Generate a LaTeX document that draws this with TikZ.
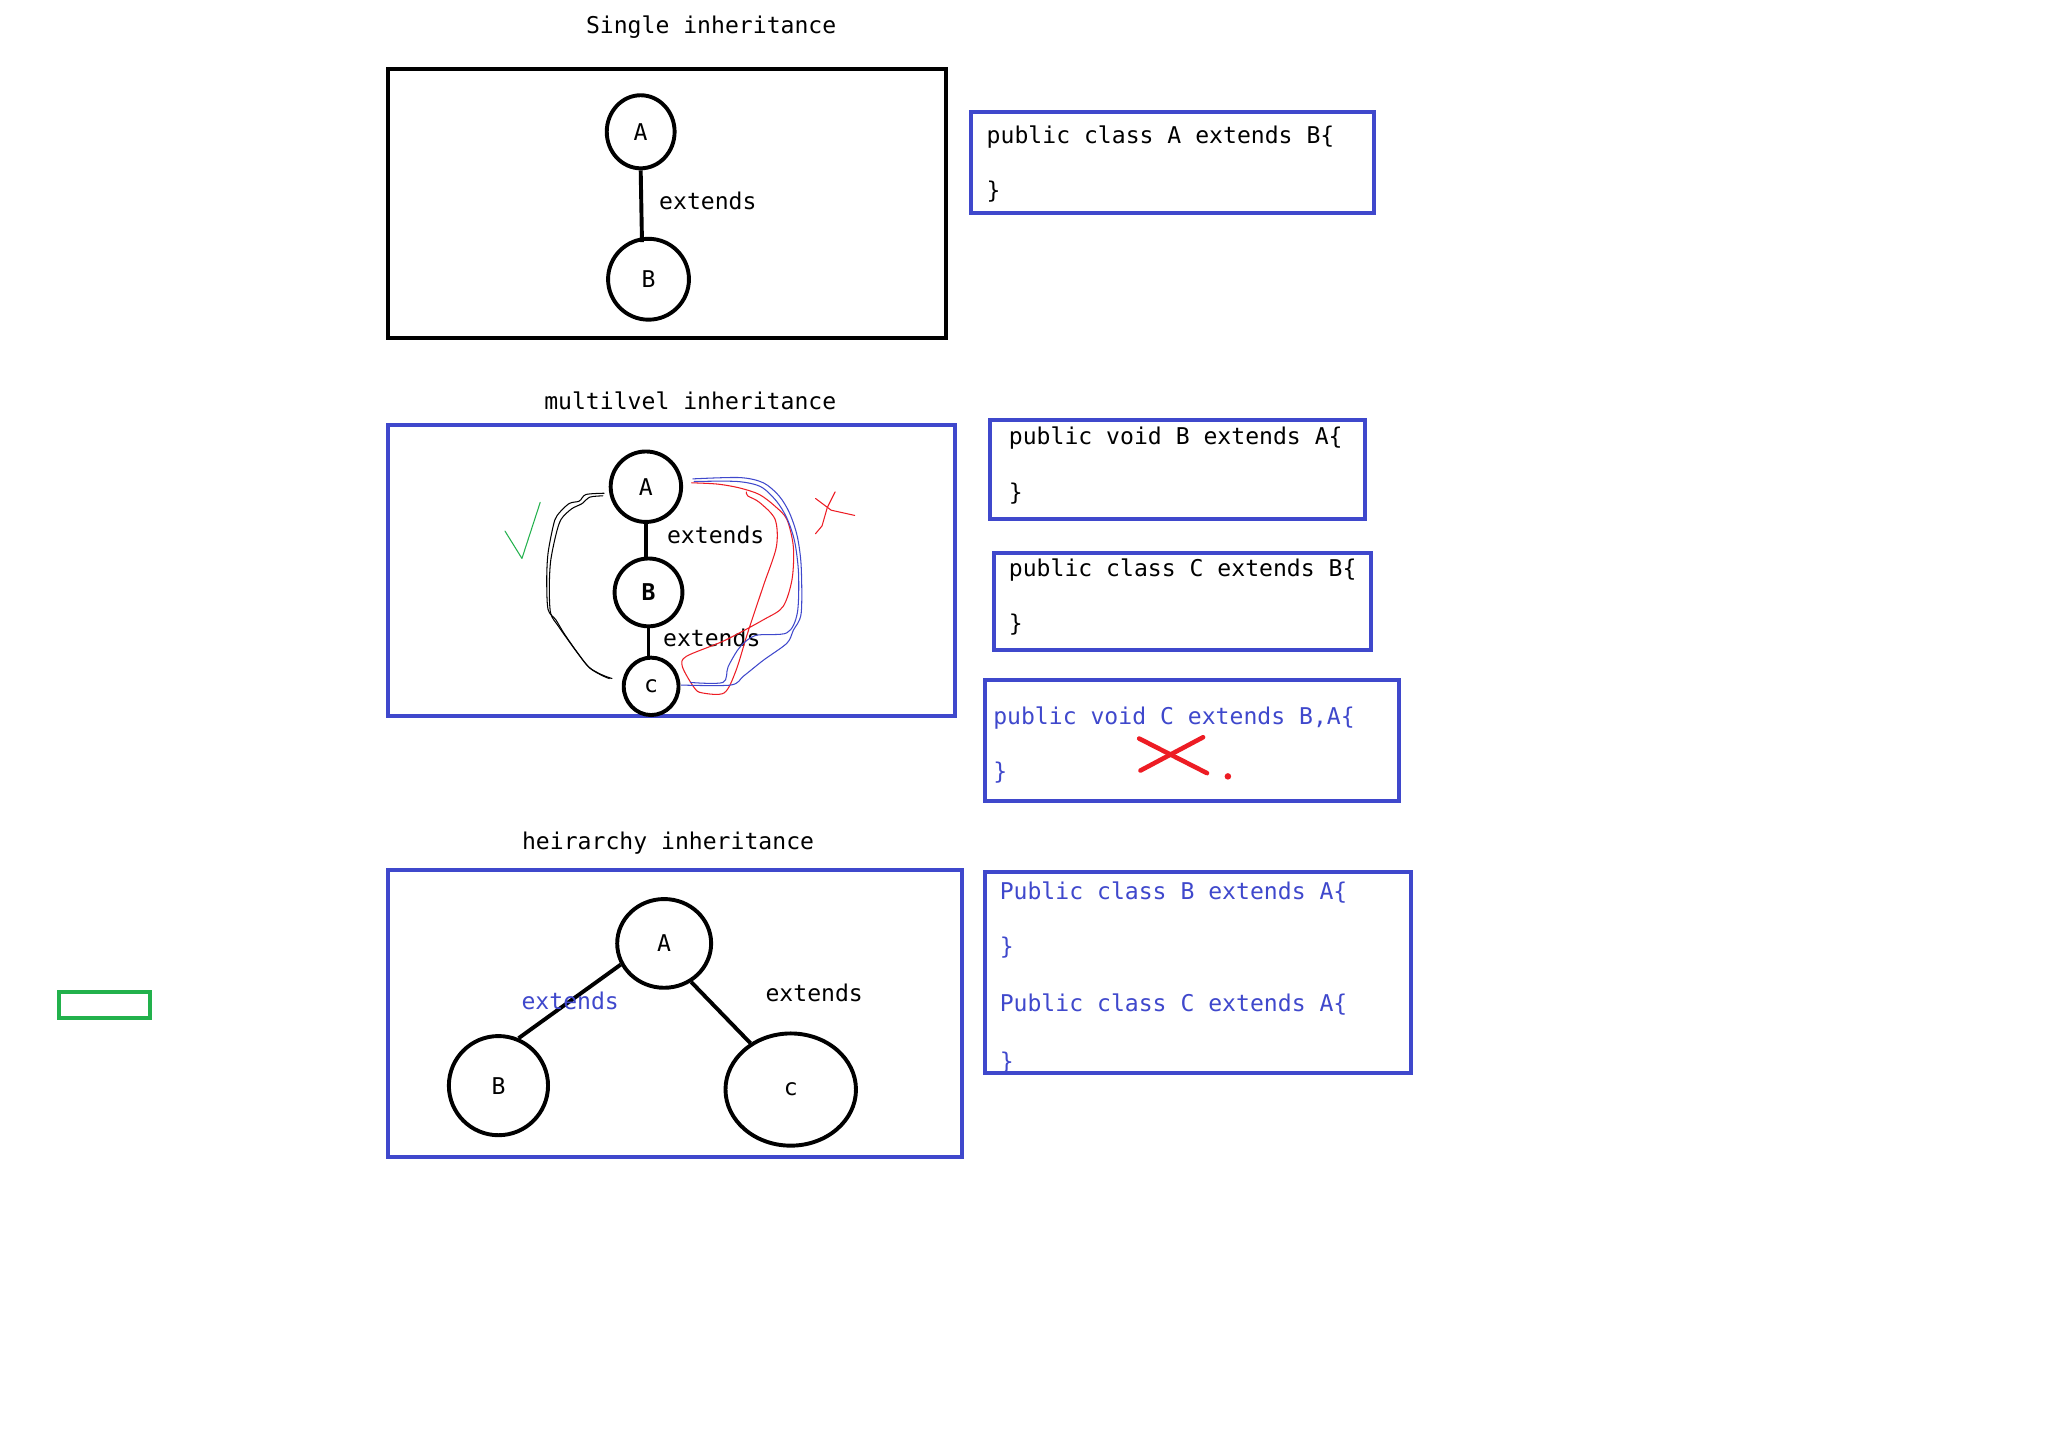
\documentclass[tikz,border=0pt]{standalone}
\usepackage{fontspec}
\setmonofont{DejaVu Sans Mono}
\usetikzlibrary{shapes.geometric}
\definecolor{pblue}{HTML}{3F48CC}
\definecolor{pred}{HTML}{ED1C24}
\definecolor{pgreen}{HTML}{22B14C}
\tikzset{
  txt/.style={font=\ttfamily\fontsize{17.7}{20}\selectfont, inner sep=0pt},
  ltxt/.style={txt, anchor=west},
  circ/.style={draw, ellipse, line width=3pt, inner sep=0pt, font=\ttfamily\fontsize{17.7}{20}\selectfont},
  frame/.style={draw=pblue, line width=3pt, inner sep=0pt},
  link/.style={line width=3pt},
  scribble/.style={line width=0.8pt, line join=round, line cap=round}
}
\begin{document}
\begin{tikzpicture}[x=1pt,y=-1pt]
\useasboundingbox[fill=white] (0,0) rectangle (1568,1110);

% ---------- Single inheritance ----------
\node[txt] (t1) at (545,21) {Single inheritance};
\node[draw=black, line width=3pt, minimum width=428pt, minimum height=206pt, inner sep=0pt] (f1) at (511,156) {};
\node[circ, minimum width=52pt, minimum height=56pt] (s1A) at (491,101) {A};
\node[circ, minimum width=62pt, minimum height=62pt] (s1B) at (497,214) {B};
\draw[link] (s1A.south) -- ([xshift=1pt,yshift=-4pt]s1A.south |- s1B.north);
\node[ltxt] (s1e) at (505,154) {extends};

\node[frame, minimum width=309pt, minimum height=77pt] (c1) at (898.5,124.5) {};
\node[ltxt] (c1a) at (756,105) {public class A extends B\{};
\node[ltxt] (c1b) at (756,147) {\}};

% ---------- Multilevel inheritance ----------
\node[txt] (t2) at (529,307) {multilvel inheritance};
\node[frame, minimum width=435pt, minimum height=223pt] (f2) at (514.5,437.5) {};
\node[circ, minimum width=54pt, minimum height=54pt] (m2A) at (495,373) {A};
\node[circ, minimum width=52pt, minimum height=52pt, font=\ttfamily\bfseries\fontsize{17.7}{20}\selectfont] (m2B) at (497,454) {B};
\node[circ, minimum width=42pt, minimum height=44pt] (m2C) at (499,526) {c};
\draw[link] (m2B.north -| m2A.south) -- (m2A.south);
\draw[link] (m2B.south) -- (m2B.south |- m2C.north);
\node[ltxt] (m2e1) at (511,410) {extends};
\node[ltxt] (m2e2) at (508,489) {extends};

% hand-drawn marks
\draw[scribble] plot[smooth] coordinates {(463,378) (449,379) (444,384) (436,386) (427,395) (424,403) (420,424) (419,444) (420,467) (426,475) (432,485) (441,498) (451,511) (461,517) (469,520)};
\draw[scribble] plot[smooth] coordinates {(462,380) (452,381) (446,386) (438,390) (430,398) (426,410) (422,430) (421,450) (422,470) (428,480) (435,490) (443,501) (452,512) (462,518) (467,520)};
\draw[scribble, pgreen] (387,407) -- (400,428) -- (414,385);
\draw[scribble, pred] plot[smooth] coordinates {(530,370) (550,371) (567,374) (582,379) (594,388) (603,398) (608,419) (607,444) (600,465) (585,475) (555,491) (526,503) (523,511) (532,527) (538,531) (555,531) (564,514) (573,485) (585,449) (595,419) (594,398) (582,385) (573,380) (572,377)};
\draw[scribble, pblue] plot[smooth] coordinates {(531,367) (567,366) (585,370) (597,380) (605,393) (611,411) (614,434) (614,470) (608,483) (603,493) (585,506) (570,518) (560,525) (522,525)};
\draw[scribble, pblue] plot[smooth] coordinates {(532,369) (565,369) (583,373) (595,384) (603,397) (609,415) (612,440) (611,470) (603,485) (579,487) (567,496) (558,511) (554,523) (529,523)};
\draw[scribble, pred] (625,382) -- (637,391) -- (655,395);
\draw[scribble, pred] (640,377) -- (634,389) -- (630,403) -- (625,409);

\node[frame, minimum width=287pt, minimum height=76pt] (c2) at (902.5,360) {};
\node[ltxt] (c2a) at (773,336) {public void B extends A\{};
\node[ltxt] (c2b) at (773,378) {\}};

\node[frame, minimum width=289pt, minimum height=74pt] (c3) at (906.5,461) {};
\node[ltxt] (c3a) at (773,437) {public class C extends B\{};
\node[ltxt] (c3b) at (773,479) {\}};

\node[frame, minimum width=317pt, minimum height=93pt] (c4) at (913.5,567.5) {};
\node[ltxt, text=pblue] (c4a) at (761,550) {public void C extends B,A\{};
\node[ltxt, text=pblue] (c4b) at (761,592) {\}};
\coordinate (x1a) at (874,590.5);
\coordinate (x1b) at (922,565);
\coordinate (x2a) at (873,566);
\coordinate (x2b) at (925,592.5);
\draw[pred, line width=3.5pt, line cap=round] (x1a) -- (x1b);
\draw[pred, line width=3.5pt, line cap=round] (x2a) -- (x2b);
\fill[pred] (941,595) circle (2.5pt);

% ---------- Hierarchy inheritance ----------
\node[txt] (t3) at (512,646) {heirarchy inheritance};
\node[frame, minimum width=440pt, minimum height=220pt] (f3) at (517,777) {};
\node[circ, minimum width=72pt, minimum height=68pt] (h3A) at (509,723) {A};
\node[circ, minimum width=76pt, minimum height=76pt] (h3B) at (382,832) {B};
\node[circ, minimum width=100pt, minimum height=86pt] (h3C) at (606,835) {c};
\draw[link] (h3A.206) -- (h3B.67);
\draw[link] (h3A.305) -- (h3C.131);
\node[txt, text=pblue] (h3e1) at (437,767) {extends};
\node[txt] (h3e2) at (624,761) {extends};

\begin{scope}
\clip (755,668) rectangle (1081,822);
\node[ltxt, text=pblue] (c5a) at (766,684) {Public class B extends A\{};
\node[ltxt, text=pblue] (c5b) at (766,726) {\}};
\node[ltxt, text=pblue] (c5c) at (766,770) {Public class C extends A\{};
\node[ltxt, text=pblue] (c5d) at (766,814) {\}};
\end{scope}
\node[frame, minimum width=326pt, minimum height=154pt] (c5) at (918,745) {};

% ---------- stray green rectangle ----------
\node[draw=pgreen, line width=3pt, minimum width=70pt, minimum height=20pt, inner sep=0pt] (g) at (80,770) {};
\end{tikzpicture}
\end{document}
